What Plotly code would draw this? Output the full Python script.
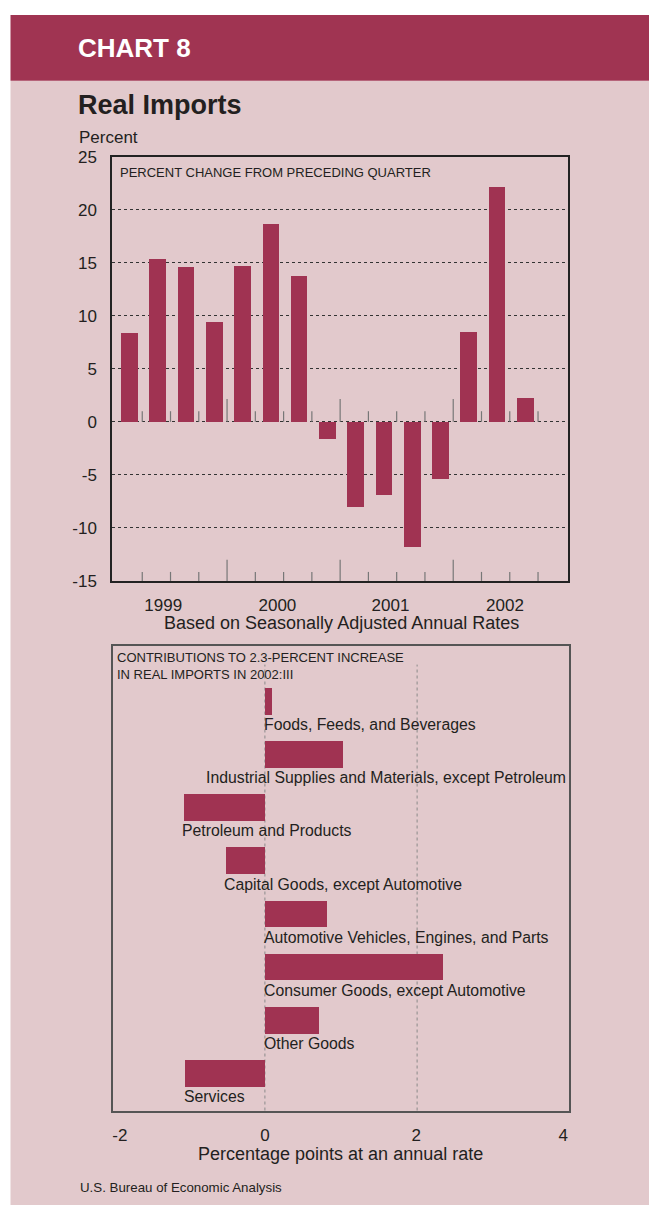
import plotly.graph_objects as go

W, H = 649, 1217

# ---------------- data ----------------
quarters = ["1999:I", "1999:II", "1999:III", "1999:IV",
            "2000:I", "2000:II", "2000:III", "2000:IV",
            "2001:I", "2001:II", "2001:III", "2001:IV",
            "2002:I", "2002:II", "2002:III"]
pct_change = [8.4, 15.4, 14.6, 9.4, 14.7, 18.7, 13.8, -1.6,
              -8.0, -6.9, -11.8, -5.4, 8.5, 22.2, 2.3]
year_labels = ["1999", "2000", "2001", "2002"]
top_yticks = [-15, -10, -5, 0, 5, 10, 15, 20, 25]

categories = ["Foods, Feeds, and Beverages",
              "Industrial Supplies and Materials, except Petroleum",
              "Petroleum and Products",
              "Capital Goods, except Automotive",
              "Automotive Vehicles, Engines, and Parts",
              "Consumer Goods, except Automotive",
              "Other Goods",
              "Services"]
contributions = [0.09, 1.02, -1.07, -0.52, 0.81, 2.33, 0.71, -1.05]
bottom_xtick_labels = ["-2", "0", "2", "4"]

# ---------------- style ----------------
BAR = "#A03352"
HEAD = "#A03452"
PINK = "#E2C9CC"
TXT = "#231F20"
REG = "Liberation Sans, Arial, Helvetica, sans-serif"
NAR = "Liberation Sans Narrow, Arial Narrow, Liberation Sans, sans-serif"


def px(xp):
    return xp / W


def py(yp):
    return 1 - yp / H


fig = go.Figure()

# top chart bars
xs = list(range(len(quarters)))
fig.add_trace(go.Bar(x=xs, y=pct_change, width=0.59, marker=dict(color=BAR, line=dict(width=0)),
                     xaxis="x", yaxis="y", showlegend=False, hoverinfo="skip"))

# bottom chart bars
ys = list(range(len(categories)))
fig.add_trace(go.Bar(x=contributions, y=ys, orientation="h", width=0.5,
                     marker=dict(color=BAR, line=dict(width=0)),
                     xaxis="x2", yaxis="y2", showlegend=False, hoverinfo="skip"))

shapes = [
    dict(type="rect", xref="paper", yref="paper", x0=px(10.5), x1=1, y0=py(1215), y1=py(73), fillcolor=PINK,
         line=dict(width=0), layer="below"),
    dict(type="rect", xref="paper", yref="paper", x0=px(10.5), x1=1, y0=py(73), y1=py(6), fillcolor=HEAD,
         line=dict(width=0), layer="below"),
]

# quarter tick marks in top chart
n_slots = 15
for k in range(n_slots):
    xk = k + 0.45
    tall = (k % 4 == 3)
    h_top = 2.15 if tall else 1.0
    h_bot = 2.0 if tall else 0.85
    shapes.append(dict(type="line", xref="x", yref="y", x0=xk, x1=xk, y0=0, y1=h_top,
                       line=dict(color="#777777", width=1.2)))
    shapes.append(dict(type="line", xref="x", yref="y", x0=xk, x1=xk, y0=-15, y1=-15 + h_bot,
                       line=dict(color="#777777", width=1.2)))

# dotted verticals in bottom chart
for gx in [0, 2]:
    shapes.append(dict(type="line", xref="x2", yref="paper", x0=gx, x1=gx, y0=py(1119), y1=py(666),
                       line=dict(color="#8a8a8a", width=1, dash="dot"), layer="below"))

annotations = [
    dict(text="<b>CHART 8</b>", x=px(76), y=py(40), xref="paper", yref="paper", xanchor="left", yanchor="middle",
         showarrow=False, font=dict(family=NAR, size=26, color="white")),
    dict(text="<b>Real Imports</b>", x=px(76), y=py(98), xref="paper", yref="paper", xanchor="left",
         yanchor="middle", showarrow=False, font=dict(family=NAR, size=27, color=TXT)),
    dict(text="Percent", x=px(77), y=py(131), xref="paper", yref="paper", xanchor="left", yanchor="middle",
         showarrow=False, font=dict(family=REG, size=17, color=TXT)),
    dict(text="PERCENT CHANGE FROM PRECEDING QUARTER", x=px(118), y=py(166), xref="paper", yref="paper",
         xanchor="left", yanchor="middle", showarrow=False, font=dict(family=NAR, size=13, color=TXT)),
    dict(text="Based on Seasonally Adjusted Annual Rates", x=px(341), y=py(624), xref="paper", yref="paper",
         xanchor="center", yanchor="middle", showarrow=False, font=dict(family=REG, size=18, color=TXT)),
    dict(text="CONTRIBUTIONS TO 2.3-PERCENT INCREASE<br>IN REAL IMPORTS IN 2002:III", x=px(115), y=py(667.5),
         xref="paper", yref="paper", xanchor="left", yanchor="middle", align="left", showarrow=False,
         font=dict(family=NAR, size=13, color=TXT)),
    dict(text="Percentage points at an annual rate", x=px(340), y=py(1163), xref="paper", yref="paper",
         xanchor="center", yanchor="middle", showarrow=False, font=dict(family=REG, size=18, color=TXT)),
    dict(text="U.S. Bureau of Economic Analysis", x=px(78), y=py(1197), xref="paper", yref="paper",
         xanchor="left", yanchor="middle", showarrow=False, font=dict(family=NAR, size=13.3, color=TXT)),
]

# category labels under each bar
for i, (name, v) in enumerate(zip(categories, contributions)):
    if i == 1:
        ax, anc, sh = 4.0, "right", -1
    else:
        ax, anc, sh = min(v, 0), "left", -3
    annotations.append(dict(text=name, x=ax, y=i + 0.44, xref="x2", yref="y2", xanchor=anc, yanchor="middle",
                            showarrow=False, xshift=sh, font=dict(family=REG, size=15.8, color=TXT)))

fig.update_layout(
    width=W, height=H,
    margin=dict(l=0, r=0, t=0, b=0),
    paper_bgcolor="white", plot_bgcolor="white",
    showlegend=False, bargap=0,
    shapes=shapes, annotations=annotations,
    xaxis=dict(domain=[px(112), px(568)], anchor="y", range=[-0.62, 15.51],
               tickvals=[1.19, 5.23, 9.23, 13.28], ticktext=year_labels, ticks="",
               showgrid=False, zeroline=False, showline=True, mirror=True, linecolor="#222", linewidth=1.5,
               tickfont=dict(family=REG, size=17, color=TXT), ticklabelstandoff=8, fixedrange=True),
    yaxis=dict(domain=[py(581), py(150)], anchor="x", range=[-15, 25], tickvals=top_yticks,
               ticktext=[str(t) for t in top_yticks], ticks="",
               showgrid=True, gridcolor="#333", griddash="dot", gridwidth=1, zeroline=False,
               showline=True, mirror=True, linecolor="#222", linewidth=1.5,
               tickfont=dict(family=REG, size=17, color=TXT), ticklabelstandoff=10, fixedrange=True),
    xaxis2=dict(domain=[px(112.7), px(569.3)], anchor="y2", range=[-2, 4],
                tickvals=[-1.905, 0, 1.99, 3.92], ticktext=bottom_xtick_labels, ticks="",
                showgrid=False, zeroline=False, showline=True, mirror=True, linecolor="#555", linewidth=1.5,
                tickfont=dict(family=REG, size=17, color=TXT), ticklabelstandoff=8, fixedrange=True),
    yaxis2=dict(domain=[py(1119), py(647)], anchor="x2", range=[7.70, -1.04], showticklabels=False, ticks="",
                showgrid=False, zeroline=False, showline=True, mirror=True, linecolor="#555", linewidth=1.5,
                fixedrange=True),
)

page_css = ("var s=document.createElement('style');"
            "s.innerHTML='html,body{margin:0;padding:0;overflow:hidden;width:649px;height:1217px;}"
            "body>div{margin:0;padding:0;height:1217px;overflow:hidden;font-size:0;line-height:0;}';"
            "document.head.appendChild(s);")

fig.write_html("out.html", config={"displayModeBar": False}, post_script=page_css)
